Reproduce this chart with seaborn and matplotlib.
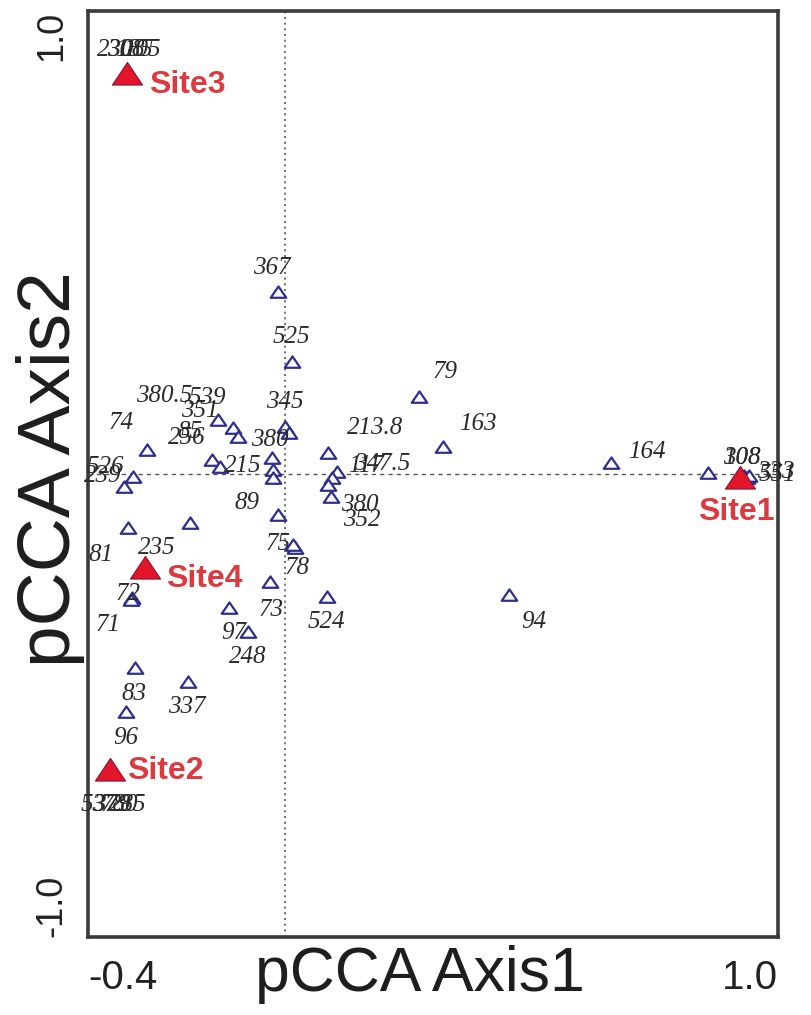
import numpy as np
import pandas as pd
import matplotlib
matplotlib.use("Agg")
import matplotlib.pyplot as plt
from matplotlib.path import Path
import seaborn as sns

# ---- species scores on pCCA axes 1 and 2 ----
species_labels = [
    "367", "525", "79", "163", "164", "108", "308", "333", "551",
    "213.8", "347.5", "117", "380", "352", "345", "380",
    "380.5", "539", "351", "74", "256", "85", "", "215", "",
    "526", "239", "89", "81", "235", "72", "71", "75", "78",
    "73", "97", "248", "524", "94", "83", "337", "96",
    "537", "379", "780", "285",
    "230", "308", "185", "105",
]
species_axis1 = [
    -0.015, 0.013, 0.271, 0.320, 0.662, 0.857, 0.932, 0.938, 0.942,
    0.086, 0.106, 0.096, 0.086, 0.094, -0.001, 0.007,
    -0.137, -0.106, -0.096, -0.281, -0.149, -0.133, -0.027, -0.025, -0.025,
    -0.309, -0.326, -0.015, -0.319, -0.194, -0.311, -0.313, 0.019, 0.015,
    -0.031, -0.113, -0.076, 0.084, 0.455, -0.305, -0.198, -0.322,
    -0.352, -0.352, -0.352, -0.352,
    -0.319, -0.319, -0.319, -0.319,
]
species_axis2 = [
    0.393, 0.242, 0.166, 0.058, 0.024, 0.002, -0.004, -0.009, -0.004,
    0.045, 0.004, -0.009, -0.024, -0.050, 0.102, 0.089,
    0.117, 0.099, 0.080, 0.052, 0.030, 0.015, 0.035, 0.009, -0.009,
    -0.006, -0.028, -0.089, -0.117, -0.106, -0.268, -0.272, -0.160, -0.153,
    -0.233, -0.289, -0.341, -0.266, -0.261, -0.419, -0.449, -0.514,
    -0.644, -0.644, -0.644, -0.644,
    0.864, 0.864, 0.864, 0.864,
]

# ---- site scores ----
site_labels = ["Site1", "Site2", "Site3", "Site4"]
site_axis1 = [0.922, -0.356, -0.321, -0.285]
site_axis2 = [-0.009, -0.639, 0.864, -0.203]

# axis ticks
x_ticks = [-0.4, -0.2, 0.0, 0.2, 0.4, 0.6, 0.8, 1.0]
x_tick_labels = ["-0.4", "", "", "", "", "", "", "1.0"]
y_ticks = [-1.0, -0.5, 0.0, 0.5, 1.0]
y_tick_labels = ["-1.0", "", "", "", "1.0"]

# label placement around each point (pixels, right / up)
species_label_dx = [
    -6, 0, 26, 35, 35, 34, -3, 28, 28,
    48, 45, 33, 32, 30, 0, -19,
    -53, -26, -38, -26, -25, -30, 0, -30, 0,
    -27, -22, -31, -27, -33, -4, -23, -16, 4,
    1, 4, 0, 0, 24, -1, -1, -1,
    -12, 0, 8, 16,
    -12, -2, 6, 14,
]
species_label_dy = [
    24, 25, 25, 23, 11, 15, 18, 6, 1,
    25, 8, 12, -20, -23, 25, -7,
    24, 30, 26, 27, 22, 35, 0, 4, 0,
    10, 11, 12, -27, -25, 4, -25, 4, -23,
    -28, -25, -25, -25, -27, -26, -25, -26,
    -33, -33, -33, -33,
    24, 24, 24, 24,
]
site_label_dx = [-3, 56, 60, 60]
site_label_dy = [-34, -1, -11, -11]

species = pd.DataFrame({"Axis1": species_axis1, "Axis2": species_axis2,
                        "label": species_labels})
sites = pd.DataFrame({"Axis1": site_axis1, "Axis2": site_axis2,
                      "label": site_labels})

sns.set_style("white")
plt.rcParams["font.family"] = ["Liberation Sans", "DejaVu Sans"]

fig = plt.figure(figsize=(8.11, 10.15), dpi=100)
ax = fig.add_axes([88 / 811, 1 - 937 / 1015, 690 / 811, 926 / 1015])

# flattened triangle markers
open_tri = Path([(-1.0, -0.68), (1.0, -0.68), (0.0, 0.78), (-1.0, -0.68)],
                [Path.MOVETO, Path.LINETO, Path.LINETO, Path.CLOSEPOLY])
site_tri = Path([(-1.0, -0.7), (1.0, -0.7), (0.0, 0.8), (-1.0, -0.7)],
                [Path.MOVETO, Path.LINETO, Path.LINETO, Path.CLOSEPOLY])

ax.axhline(0, color="#555555", lw=1.0, ls=(0, (3, 3)), zorder=1)
ax.axvline(0, color="#555555", lw=1.2, ls=(0, (1.2, 2.2)), zorder=1)

sns.scatterplot(data=species, x="Axis1", y="Axis2", ax=ax, marker=open_tri,
                s=125, facecolor="white", edgecolor="#2e2e8c", linewidth=1.6,
                zorder=3, legend=False)
sns.scatterplot(data=sites, x="Axis1", y="Axis2", ax=ax, marker=site_tri,
                s=470, color="#e3152b", edgecolor="#8a1030", linewidth=0.8,
                zorder=4, legend=False)

for x, y, lab, dx, dy in zip(species_axis1, species_axis2, species_labels,
                             species_label_dx, species_label_dy):
    if lab:
        ax.annotate(lab, (x, y), xytext=(dx, dy), textcoords="offset pixels",
                    ha="center", va="center", fontsize=18, style="italic",
                    family="Liberation Serif", color="#2a2a2a", zorder=5,
                    annotation_clip=False)

for x, y, lab, dx, dy in zip(site_axis1, site_axis2, site_labels,
                             site_label_dx, site_label_dy):
    ax.annotate(lab, (x, y), xytext=(dx, dy), textcoords="offset pixels",
                ha="center", va="center", fontsize=23, fontweight="bold",
                color="#dc3a3f", zorder=6, annotation_clip=False)

ax.set_xlim(-0.4, 1.0)
ax.set_ylim(-1.0, 1.0)
ax.set_xticks(x_ticks)
ax.set_xticklabels(x_tick_labels, fontsize=29, color="#222222")
ax.set_yticks(y_ticks)
ax.set_yticklabels(y_tick_labels, fontsize=26, color="#222222", rotation=90)
xt = ax.get_xticklabels()
xt[0].set_horizontalalignment("left")
xt[-1].set_horizontalalignment("right")
yt = ax.get_yticklabels()
yt[0].set_verticalalignment("bottom")
yt[-1].set_verticalalignment("top")

ax.tick_params(axis="both", direction="inout", length=9, width=1.6,
               color="#333333")
ax.tick_params(axis="x", pad=11)
ax.tick_params(axis="y", pad=9)

for sp in ax.spines.values():
    sp.set_color("#3a3a3a")
    sp.set_linewidth(2.6)

ax.set_xlabel("pCCA Axis1", fontsize=45, color="#1e1e1e")
ax.set_ylabel("pCCA Axis2", fontsize=54, color="#1e1e1e")
ax.xaxis.set_label_coords(0.481, -0.0086)
ax.yaxis.set_label_coords(-0.005, 0.505)

fig.savefig("out.png", dpi=100)
